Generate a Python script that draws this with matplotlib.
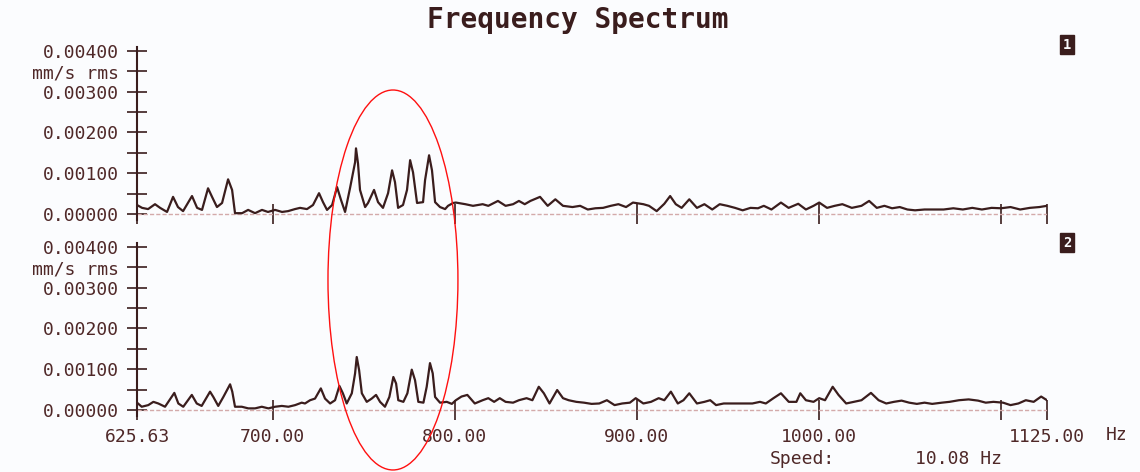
import numpy as np
import matplotlib
matplotlib.use("Agg")
import matplotlib.pyplot as plt
from matplotlib.patches import Ellipse

# channel 1 spectrum, amplitude in 1e-3 mm/s rms
top_freq = [625.63, 628.4, 631.7, 635.5, 638.3, 642.1, 645.4, 648.1, 650.9, 655.8,
            658.6, 661.3, 664.6, 666.8, 669.5, 672.3, 675.6, 677.8, 679.4, 683.3,
            686.6, 690.4, 694.2, 697.5, 701.4, 705.2, 708.5, 712.3, 715.1, 718.9,
            722.2, 725.5, 727.7, 729.9, 732.7, 735.4, 737.6, 739.8, 742.5, 745.3,
            745.8, 746.9, 748.0, 750.8, 752.4, 755.7, 757.9, 760.6, 763.4, 765.6,
            767.2, 768.9, 771.6, 773.8, 775.5, 777.1, 779.3, 782.6, 783.7, 785.9,
            787.5, 789.2, 791.9, 794.7, 796.3, 799.1, 800.6, 805.8, 810.0, 815.3,
            818.4, 823.7, 827.9, 832.0, 835.2, 838.4, 841.5, 846.8, 851.0, 855.2,
            859.4, 864.6, 868.8, 873.0, 877.2, 881.4, 885.6, 889.8, 894.0, 897.8,
            903.5, 906.6, 910.8, 915.0, 918.2, 921.3, 924.5, 928.7, 932.9, 937.0,
            941.3, 945.4, 949.6, 953.8, 958.0, 962.3, 966.4, 969.6, 973.8, 979.0,
            983.2, 988.5, 992.7, 996.9, 1000.0, 1004.3, 1008.5, 1012.7, 1017.9, 1023.2,
            1027.4, 1031.6, 1035.8, 1040.0, 1044.2, 1048.4, 1052.6, 1057.8, 1063.1, 1068.3,
            1073.6, 1078.8, 1084.0, 1089.3, 1094.6, 1099.8, 1105.0, 1110.3, 1115.6, 1120.8,
            1125.0]
top_amp = [0.22, 0.15, 0.12, 0.24, 0.15, 0.05, 0.42, 0.17, 0.07, 0.44,
           0.15, 0.10, 0.63, 0.42, 0.17, 0.27, 0.85, 0.59, 0.02, 0.02,
           0.10, 0.02, 0.10, 0.05, 0.10, 0.05, 0.07, 0.12, 0.15, 0.12,
           0.22, 0.51, 0.29, 0.10, 0.22, 0.66, 0.34, 0.05, 0.63, 1.27,
           1.61, 1.24, 0.59, 0.17, 0.27, 0.59, 0.29, 0.15, 0.51, 1.07,
           0.78, 0.15, 0.22, 0.59, 1.32, 1.02, 0.27, 0.29, 0.83, 1.44,
           1.07, 0.29, 0.17, 0.12, 0.20, 0.27, 0.28, 0.24, 0.20, 0.24,
           0.20, 0.32, 0.20, 0.24, 0.32, 0.24, 0.32, 0.42, 0.20, 0.36,
           0.20, 0.17, 0.20, 0.11, 0.14, 0.15, 0.20, 0.24, 0.17, 0.28,
           0.24, 0.20, 0.07, 0.25, 0.44, 0.24, 0.15, 0.36, 0.15, 0.24,
           0.11, 0.24, 0.20, 0.15, 0.09, 0.15, 0.14, 0.20, 0.11, 0.28,
           0.15, 0.25, 0.11, 0.20, 0.28, 0.15, 0.20, 0.24, 0.15, 0.20,
           0.32, 0.15, 0.20, 0.14, 0.17, 0.11, 0.09, 0.11, 0.11, 0.11,
           0.14, 0.11, 0.15, 0.11, 0.15, 0.14, 0.17, 0.11, 0.15, 0.17,
           0.20]

# channel 2 spectrum, amplitude in 1e-3 mm/s rms
bot_freq = [625.63, 628.2, 631.8, 634.6, 637.3, 641.0, 646.1, 648.3, 651.0, 655.7,
            658.4, 661.1, 665.7, 667.5, 670.2, 673.0, 676.7, 677.9, 679.4, 683.1,
            686.7, 690.4, 694.1, 697.7, 701.4, 705.1, 708.7, 712.4, 716.0, 717.8,
            720.6, 723.3, 726.5, 728.8, 731.6, 734.3, 736.7, 738.6, 740.7, 743.5,
            745.3, 746.2, 747.5, 749.0, 751.7, 754.4, 756.8, 759.0, 761.7, 764.1,
            766.3, 767.8, 769.0, 771.8, 774.0, 776.4, 778.2, 780.0, 782.8, 784.6,
            786.4, 787.9, 789.2, 791.9, 795.6, 798.4, 800.6, 803.7, 806.9, 811.0,
            815.3, 818.4, 821.6, 824.7, 827.9, 832.0, 835.2, 839.4, 842.6, 846.1,
            848.9, 852.0, 856.2, 859.4, 862.5, 866.7, 870.9, 875.1, 879.3, 883.5,
            887.7, 891.9, 896.1, 899.3, 903.5, 907.7, 911.9, 915.0, 918.6, 922.4,
            925.5, 928.7, 932.9, 937.0, 940.2, 943.4, 947.6, 952.8, 958.1, 963.3,
            967.5, 970.7, 974.9, 979.0, 983.3, 987.5, 989.6, 992.7, 996.9, 1000.0,
            1003.2, 1007.4, 1010.6, 1014.8, 1018.9, 1023.2, 1028.4, 1032.6, 1036.8, 1041.0,
            1045.2, 1049.4, 1053.6, 1057.8, 1062.0, 1067.3, 1071.5, 1076.7, 1082.0, 1087.2,
            1091.4, 1095.6, 1100.9, 1105.0, 1109.3, 1113.4, 1117.7, 1121.8, 1125.0]
bot_amp = [0.18, 0.08, 0.12, 0.20, 0.16, 0.08, 0.42, 0.16, 0.08, 0.37,
           0.16, 0.10, 0.45, 0.32, 0.10, 0.32, 0.63, 0.45, 0.08, 0.08,
           0.04, 0.04, 0.08, 0.04, 0.08, 0.10, 0.08, 0.12, 0.18, 0.16,
           0.24, 0.28, 0.53, 0.28, 0.16, 0.24, 0.59, 0.41, 0.16, 0.41,
           0.90, 1.30, 0.98, 0.41, 0.20, 0.28, 0.37, 0.20, 0.08, 0.32,
           0.81, 0.65, 0.24, 0.20, 0.41, 0.99, 0.73, 0.20, 0.18, 0.57,
           1.15, 0.90, 0.32, 0.18, 0.20, 0.15, 0.24, 0.33, 0.37, 0.16,
           0.24, 0.29, 0.20, 0.29, 0.20, 0.18, 0.24, 0.29, 0.24, 0.57,
           0.41, 0.16, 0.49, 0.29, 0.24, 0.20, 0.18, 0.15, 0.16, 0.24,
           0.12, 0.16, 0.18, 0.29, 0.16, 0.20, 0.29, 0.24, 0.45, 0.16,
           0.24, 0.41, 0.16, 0.20, 0.24, 0.12, 0.16, 0.16, 0.16, 0.16,
           0.20, 0.16, 0.29, 0.41, 0.20, 0.20, 0.41, 0.24, 0.20, 0.29,
           0.24, 0.57, 0.37, 0.16, 0.20, 0.24, 0.42, 0.24, 0.16, 0.20,
           0.23, 0.18, 0.15, 0.18, 0.15, 0.18, 0.20, 0.24, 0.26, 0.23,
           0.18, 0.20, 0.18, 0.12, 0.16, 0.24, 0.20, 0.33, 0.24]

y_ticks = [0, 0.0005, 0.001, 0.0015, 0.002, 0.0025, 0.003, 0.0035, 0.004]
y_labels = ["0.00000", "", "0.00100", "", "0.00200", "", "0.00300", "mm/s rms", "0.00400"]
x_ticks = [625.63, 700, 800, 900, 1000, 1100, 1125]
x_labels = ["625.63", "700.00", "800.00", "900.00", "1000.00", "", "1125.00"]

ink = "#3a1d1d"
txt = "#4f2828"
paper = "#fbfcfe"

plt.rcParams["font.family"] = "DejaVu Sans Mono"

fig = plt.figure(figsize=(11.4, 4.72), dpi=100, facecolor=paper)
ax1 = fig.add_axes([0.1202, 0.5337, 0.7982, 0.367])
ax2 = fig.add_axes([0.1202, 0.1184, 0.7982, 0.367])

for ax, f, a in ((ax1, top_freq, top_amp), (ax2, bot_freq, bot_amp)):
    ax.set_facecolor("none")
    ax.axhline(0, color="#d3aaaa", lw=1, ls=(0, (3, 1.5)))
    ax.plot(f, np.array(a) / 1000, color=ink, lw=1.6)
    ax.set_xlim(625.63, 1125)
    ax.set_ylim(-0.00015, 0.0041)
    ax.spines["top"].set_visible(False)
    ax.spines["right"].set_visible(False)
    ax.spines["left"].set_color(ink)
    ax.spines["left"].set_linewidth(1.5)
    ax.spines["bottom"].set_position(("data", 0))
    ax.spines["bottom"].set_color("none")
    ax.set_yticks(y_ticks, y_labels)
    ax.set_xticks(x_ticks, x_labels)
    ax.tick_params(direction="inout", length=14, width=1.2, color=ink,
                   labelcolor=txt, labelsize=13)
    ax.tick_params(axis="y", pad=6)
    ax.tick_params(axis="x", pad=6)
ax1.tick_params(axis="x", labelbottom=False)

fig.text(0.507, 0.958, "Frequency Spectrum", ha="center", va="center",
         fontsize=20, fontweight="bold", color=ink)
fig.text(0.97, 0.079, "Hz", ha="left", va="center", fontsize=13, color=txt)
fig.text(0.6754, 0.027, "Speed:", ha="left", va="center", fontsize=13, color=txt)
fig.text(0.8026, 0.027, "10.08 Hz", ha="left", va="center", fontsize=13, color=txt)

for y, lab in ((0.9047, "1"), (0.4852, "2")):
    fig.text(0.936, y, lab, ha="center", va="center", fontsize=10, fontweight="bold",
             color=paper, bbox=dict(boxstyle="square,pad=0.18", fc=ink, ec=ink))

fig.add_artist(Ellipse((0.3447, 0.4068), 0.114, 0.805, transform=fig.transFigure,
                       fill=False, ec="#ff1010", lw=1.0, zorder=10))

fig.savefig("out.png", dpi=100, facecolor=paper)
